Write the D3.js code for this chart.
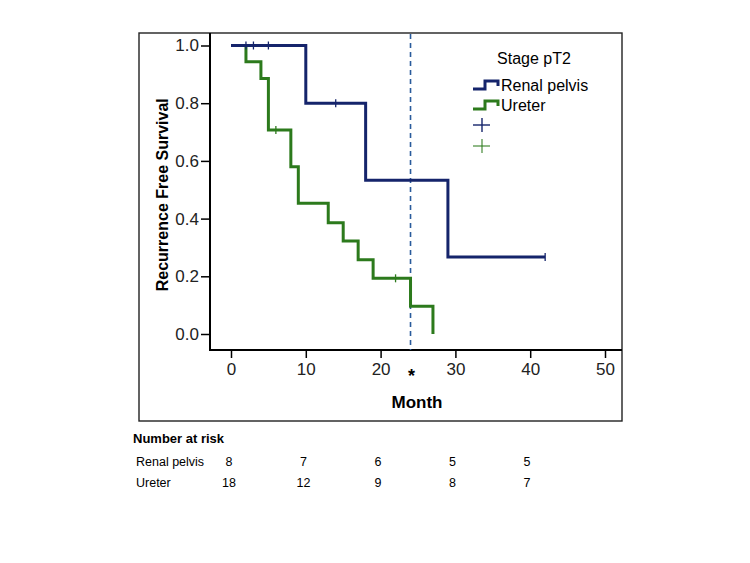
<!DOCTYPE html>
<html><head><meta charset="utf-8">
<script src="https://cdn.jsdelivr.net/npm/d3@7"></script>
<style>body{margin:0;background:#fff}svg{display:block}text{font-family:"Liberation Sans",Arial,sans-serif}</style>
</head><body><svg id="c" width="750" height="563"></svg>
<script>
// Renal pelvis step curve: [month, survival]
const renalSteps = [[0,1.0],[10,0.8],[18,0.533],[29,0.267],[42,0.267]];
const renalCensor = [[2,1.0],[3,1.0],[5,1.0],[14,0.8],[42,0.267]];
// Ureter step curve
const ureterSteps = [[0,1.0],[2,0.944],[4,0.886],[5,0.707],[8,0.58],[9,0.453],[13,0.386],[15,0.322],[17,0.257],[19,0.193],[24,0.096],[27,0.0]];
const ureterCensor = [[6,0.707],[22,0.193]];
const xTicks = [0,10,20,30,40,50];
const yTicks = [0,0.2,0.4,0.6,0.8,1.0];
const refMonth = 24;
const riskGroups = ["Renal pelvis","Ureter"];
const riskRenal = [8,7,6,5,5];
const riskUreter = [18,12,9,8,7];
const riskCols = [0,1,2,3,4];

const svg = d3.select("#c");
const x = d3.scaleLinear().domain([0,50]).range([231,605]);
const y = d3.scaleLinear().domain([0,1]).range([334,45.5]);
const axisX0 = 210, axisY0 = 350, frameTop = 33, frameRight = 622;

// outer frame
svg.append("rect").attr("x",139).attr("y",frameTop).attr("width",frameRight-139).attr("height",421-frameTop)
  .attr("fill","none").attr("stroke","#222").attr("stroke-width",1.4);

// axes
const gy = svg.append("g").attr("transform",`translate(${axisX0},0)`)
  .call(d3.axisLeft(y).tickValues(yTicks).tickFormat(d3.format(".1f")).tickSize(9).tickPadding(2));
gy.select(".domain").remove();
gy.selectAll("line").attr("stroke","#000").attr("stroke-width",1.5);
gy.selectAll("text").attr("font-size",17).attr("fill","#222");
const gx = svg.append("g").attr("transform",`translate(0,${axisY0})`)
  .call(d3.axisBottom(x).tickValues(xTicks).tickSize(8).tickPadding(5));
gx.select(".domain").remove();
gx.selectAll("line").attr("stroke","#000").attr("stroke-width",1.5);
gx.selectAll("text").attr("font-size",17).attr("fill","#222");
svg.append("line").attr("x1",axisX0).attr("x2",axisX0).attr("y1",frameTop).attr("y2",axisY0+1).attr("stroke","#000").attr("stroke-width",2);
svg.append("line").attr("x1",axisX0).attr("x2",frameRight).attr("y1",axisY0).attr("y2",axisY0).attr("stroke","#000").attr("stroke-width",2);

// axis titles
svg.append("text").attr("transform",`translate(168,${(y(0)+y(1))/2+5}) rotate(-90)`).attr("text-anchor","middle")
  .attr("font-size",16).attr("font-weight","bold").text("Recurrence Free Survival");
svg.append("text").attr("x",417).attr("y",408).attr("text-anchor","middle").attr("font-size",17).attr("font-weight","bold").text("Month");

// reference dashed line
svg.append("line").attr("x1",x(refMonth)).attr("x2",x(refMonth)).attr("y1",frameTop+1).attr("y2",axisY0)
  .attr("stroke","#2a5b9c").attr("stroke-width",1.6).attr("stroke-dasharray","5,4");
svg.append("text").attr("x",x(refMonth)+1).attr("y",382).attr("text-anchor","middle").attr("font-size",18).attr("font-weight","bold").text("*");

const line = d3.line().x(d=>x(d[0])).y(d=>y(d[1])).curve(d3.curveStepAfter);
const blue = "#15246b", green = "#2c7a1c";
function drawCensor(data,color){
  svg.append("g").selectAll("line").data(data).join("line")
    .attr("x1",d=>x(d[0])).attr("x2",d=>x(d[0])).attr("y1",d=>y(d[1])-4).attr("y2",d=>y(d[1])+4)
    .attr("stroke",color).attr("stroke-width",1.3);
}
svg.append("path").datum(ureterSteps).attr("d",line).attr("fill","none").attr("stroke",green).attr("stroke-width",3);
svg.append("path").datum(renalSteps).attr("d",line).attr("fill","none").attr("stroke",blue).attr("stroke-width",3);
drawCensor(renalCensor,blue);
drawCensor(ureterCensor,green);

// legend
const lg = svg.append("g");
lg.append("text").attr("x",534).attr("y",64).attr("text-anchor","middle").attr("font-size",16).text("Stage pT2");
const legendItems = [{name:"Renal pelvis",color:blue},{name:"Ureter",color:green}];
legendItems.forEach((it,i)=>{
  const cy = 85 + i*20;
  lg.append("path").attr("d",`M473,${cy+4}H485V${cy-4}H498V${cy+1}`).attr("fill","none").attr("stroke",it.color).attr("stroke-width",3);
  lg.append("text").attr("x",501).attr("y",cy+6).attr("font-size",16).text(it.name);
  const py = 125 + i*21;
  lg.append("line").attr("x1",473).attr("x2",490).attr("y1",py).attr("y2",py).attr("stroke",it.color).attr("stroke-width",1.4).attr("opacity",i?0.75:1);
  lg.append("line").attr("x1",482).attr("x2",482).attr("y1",py-7).attr("y2",py+7).attr("stroke",it.color).attr("stroke-width",1.4).attr("opacity",i?0.75:1);
});

// number at risk table
const rc = d3.scalePoint().domain(riskCols).range([229,527]);
svg.append("text").attr("x",133).attr("y",443).attr("font-size",13).attr("font-weight","bold")
  .attr("font-family","'Open Sans',sans-serif").text("Number at risk");
[riskRenal,riskUreter].forEach((vals,i)=>{
  const ty = 466 + i*21;
  svg.append("text").attr("x",136).attr("y",ty).attr("font-size",12.5).attr("font-family","'Open Sans',sans-serif").text(riskGroups[i]);
  svg.append("g").selectAll("text").data(vals).join("text")
    .attr("x",(d,j)=>rc(j)).attr("y",ty).attr("text-anchor","middle").attr("font-size",12.5)
    .attr("font-family","'Open Sans',sans-serif").text(d=>d);
});
</script></body></html>
